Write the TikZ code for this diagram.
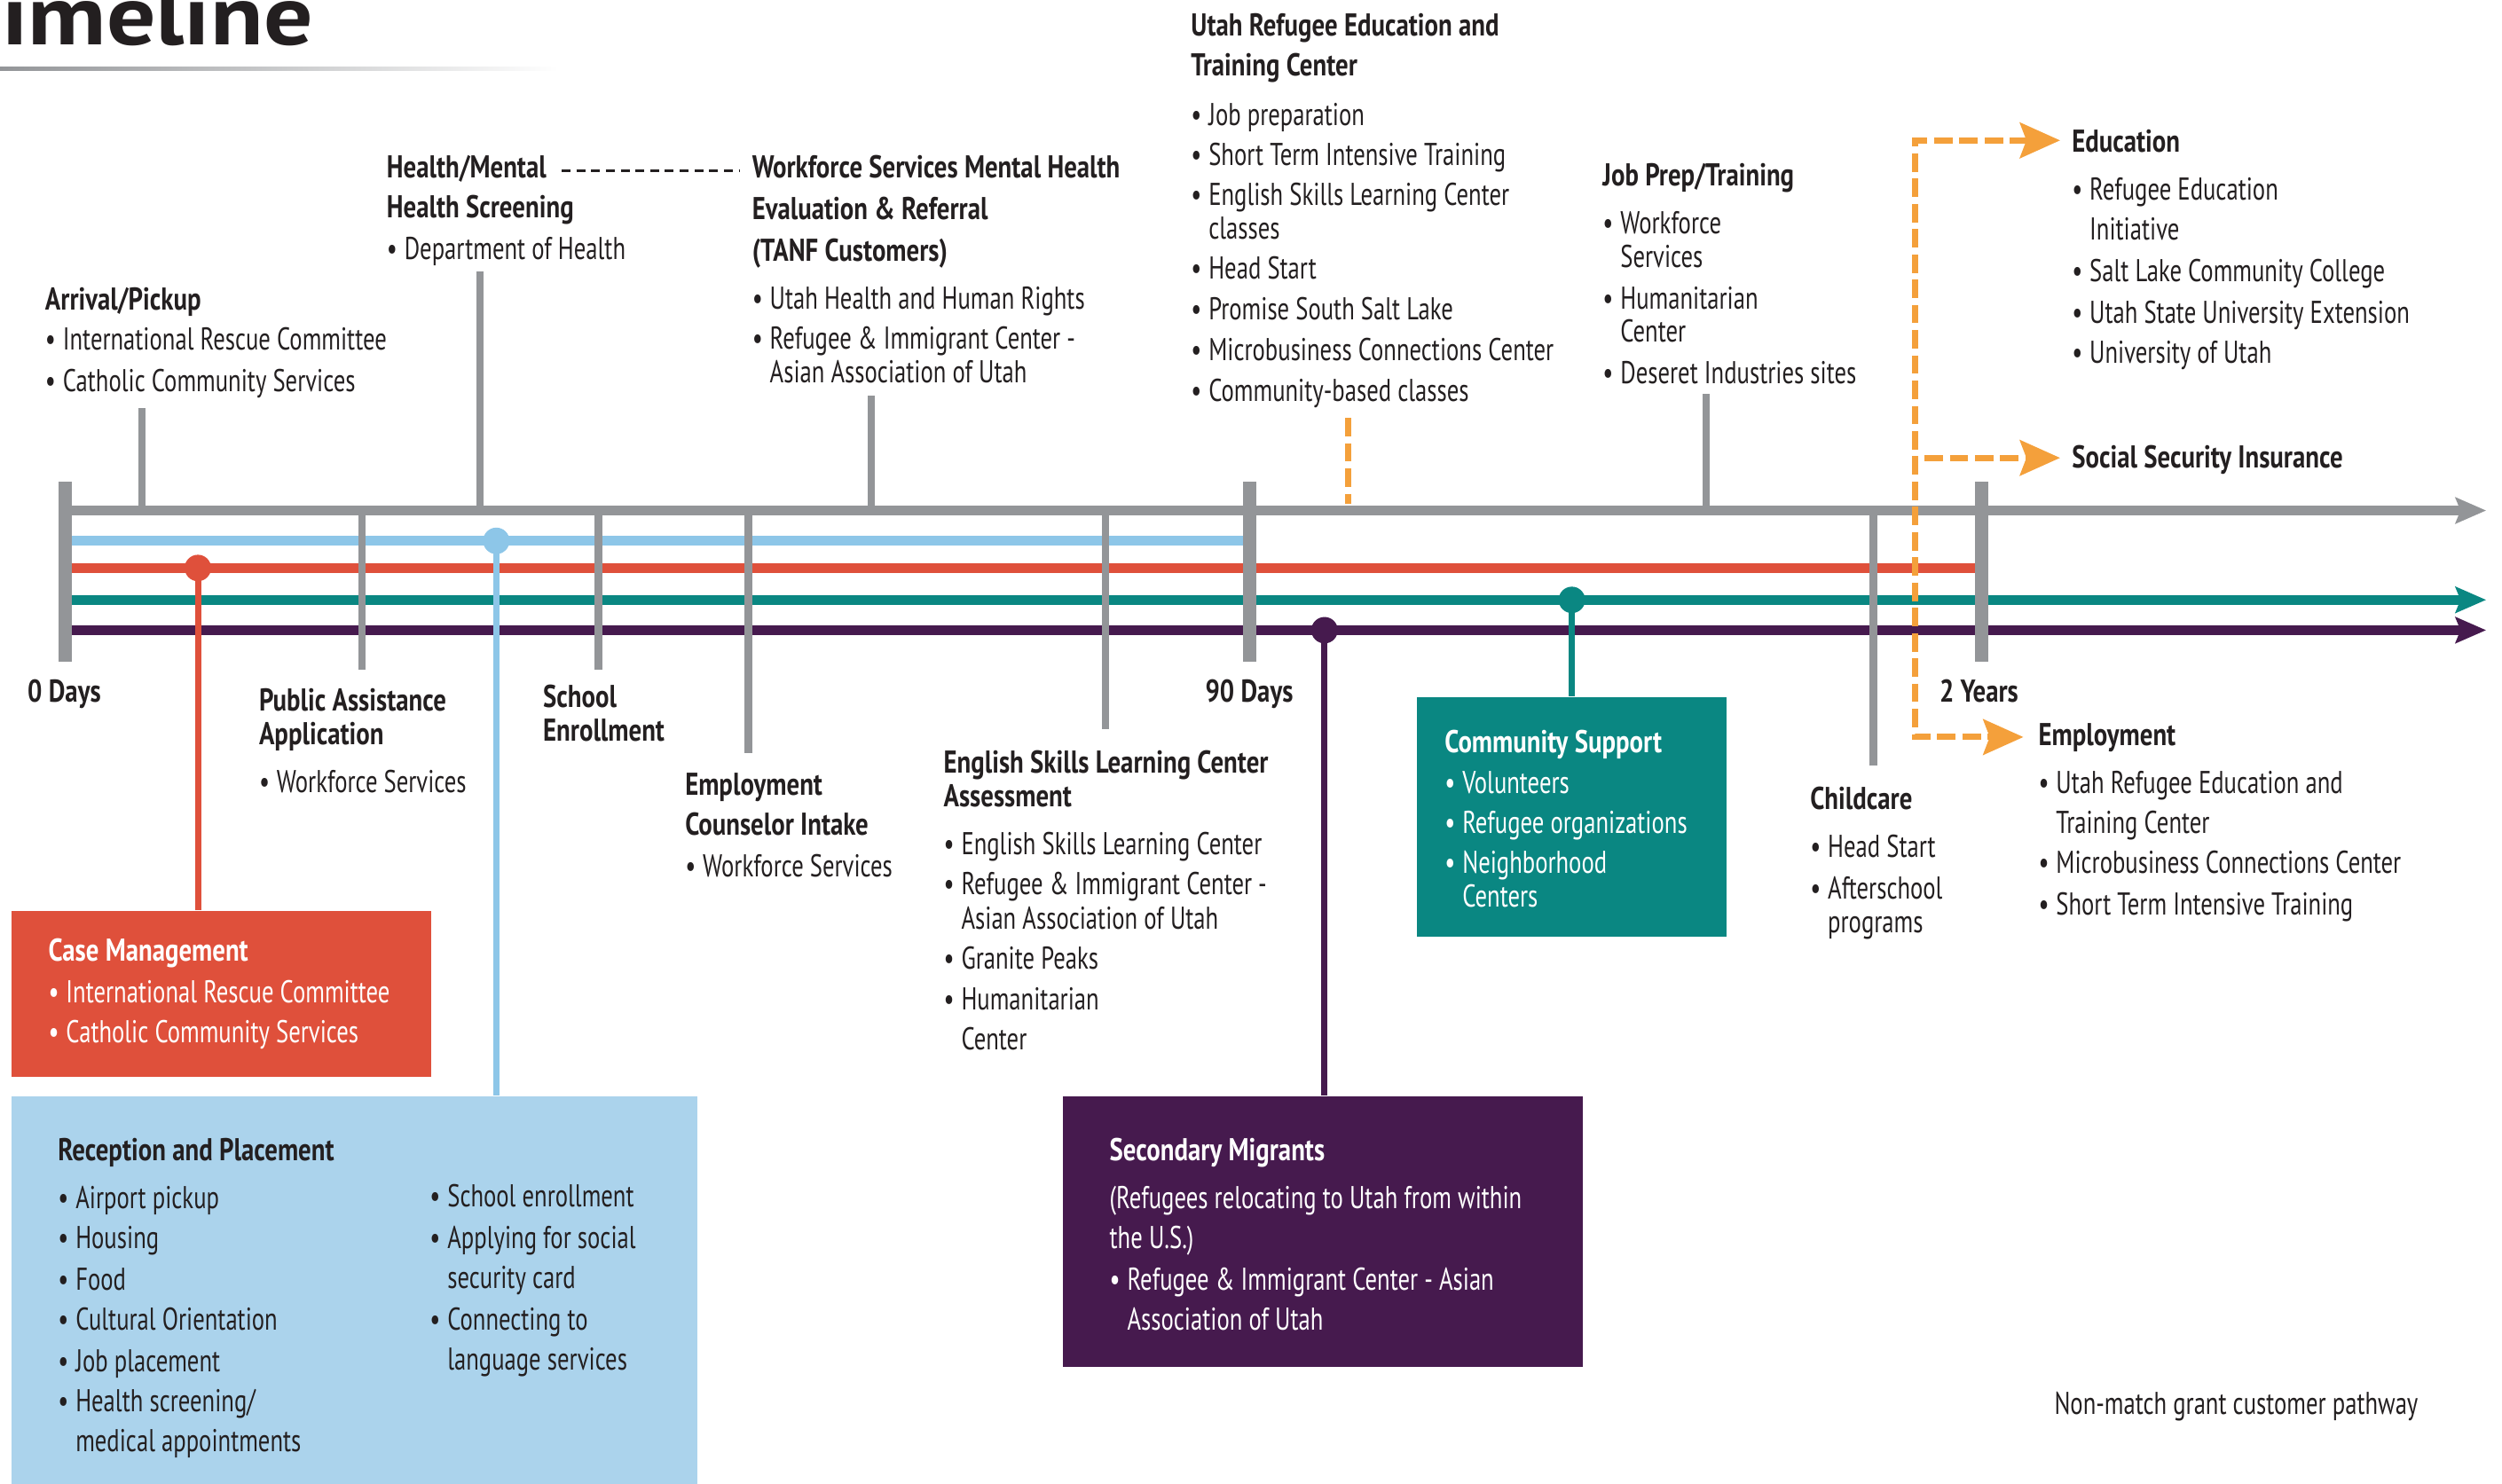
\documentclass[tikz,border=0pt]{standalone}
\usepackage{fontspec}
\setmainfont{PT Sans}[UprightFeatures={FakeStretch=0.75}, BoldFeatures={FakeStretch=0.81}]
\newfontfamily\titlefont{PT Sans}[FakeStretch=1.15]
\usetikzlibrary{arrows.meta,fit}
\definecolor{ink}{HTML}{231F20}
\definecolor{axisgrey}{HTML}{939598}
\definecolor{lblue}{HTML}{8DC6E8}
\definecolor{boxblue}{HTML}{ABD3EC}
\definecolor{rred}{HTML}{DF503B}
\definecolor{tealc}{HTML}{0A8782}
\definecolor{purp}{HTML}{461A4E}
\definecolor{orng}{HTML}{F4A03B}
\newlength\uu \setlength\uu{0.02cm}
\newcommand\bl{\textbullet\hspace{0.22em}}
\newcommand\ind{\hphantom{\textbullet\hspace{0.22em}}}
\tikzset{
  txt/.style={anchor=north west, yshift=7.9pt, inner sep=0pt, align=left, text=ink,
    font=\fontsize{11.2}{11.9}\selectfont, execute at begin node={\rule{0pt}{9pt}}},
  wtxt/.style={txt, text=white},
  axisline/.style={draw=axisgrey, line width=0.13cm},
  pathline/.style={line width=0.12cm},
  gtip/.tip={Stealth[length=0.38cm, width=0.32cm, inset=0.06cm]},
  tipbig/.style={-{gtip}},
  minortick/.style={draw=axisgrey, line width=0.09cm},
  majortick/.style={draw=axisgrey, line width=0.165cm},
  conn/.style={line width=0.078cm},
  dot/.style={circle, inner sep=0pt, minimum size=0.33cm},
  panel/.style={inner sep=0pt, draw=none},
  odash/.style={draw=orng, line width=0.078cm, dash pattern=on 0.23cm off 0.085cm},
  otip/.tip={Stealth[length=0.5cm, width=0.44cm, inset=0.08cm]},
}
\begin{document}
\begin{tikzpicture}[x=0.02cm, y=-0.02cm]
\useasboundingbox (0,0) rectangle (1560,925);
\clip (0,0) rectangle (1560,925);
\begin{scope}[scale=0.995]

% title
\node[anchor=base west, inner sep=0pt, text=ink, font=\titlefont\bfseries\fontsize{30}{30}\selectfont] (title) at (1,28) {imeline};
\shade[left color=axisgrey, right color=white] (0,42) rectangle (350,44);

% panels
\node[panel, fill=rred, fit={(7,571)(270,675)}] (casebox) {};
\node[panel, fill=boxblue, fit={(7,687)(437,935)}] (recbox) {};
\node[panel, fill=purp, fit={(666,687)(992,857)}] (secbox) {};
\node[panel, fill=tealc, fit={(888,437)(1082,587)}] (combox) {};

% axis coordinates
\coordinate (O) at (41,320);
\coordinate (E) at (1558,320);
\coordinate (Bs) at (41,339); \coordinate (Be) at (783,339);
\coordinate (Rs) at (41,356); \coordinate (Re) at (1242,356);
\coordinate (Ts) at (41,376); \coordinate (Te) at (1558,376);
\coordinate (Ps) at (41,395); \coordinate (Pe) at (1558,395);

% colored pathways
\draw[pathline, draw=lblue] (Bs) -- (Be);
\draw[pathline, draw=rred] (Rs) -- (Re);
\draw[pathline, draw=tealc, tipbig] (Ts) -- (Te);
\draw[pathline, draw=purp, tipbig] (Ps) -- (Pe);
\draw[axisline, tipbig] (O) -- (E);

% ticks
\coordinate (tArr) at (89,256);
\coordinate (tHea) at (301,170);
\coordinate (tWmh) at (546,248);
\coordinate (tJob) at (1069,247);
\coordinate (tPub) at (227,420);
\coordinate (tSch) at (375,420);
\coordinate (tEmp) at (469,472);
\coordinate (tEsl) at (693,457);
\coordinate (tChi) at (1174,480);
\foreach \t in {tArr,tHea,tWmh,tJob,tPub,tSch,tEmp,tEsl,tChi}
  \draw[minortick] (\t) -- (\t |- O);
\coordinate (m0a) at (41,302);   \coordinate (m0b) at (41,415);
\coordinate (m90a) at (783,302); \coordinate (m90b) at (783,415);
\coordinate (m2a) at (1242,302); \coordinate (m2b) at (1242,415);
\draw[majortick] (m0a) -- (m0b);
\draw[majortick] (m90a) -- (m90b);
\draw[majortick] (m2a) -- (m2b);

% dots and connectors
\node[dot, fill=rred] (rdot) at (124,356) {};
\node[dot, fill=lblue] (bdot) at (311,339) {};
\node[dot, fill=purp] (pdot) at (830,395) {};
\node[dot, fill=tealc] (tdot) at (985,376) {};
\draw[conn, draw=rred] (rdot.center) -- (rdot |- casebox.north);
\draw[conn, draw=lblue] (bdot.center) -- (bdot |- recbox.north);
\draw[conn, draw=purp] (pdot.center) -- (pdot |- secbox.north);
\draw[conn, draw=tealc] (tdot.center) -- (tdot |- combox.north);

% orange pathway
\coordinate (oTop) at (1200,88);
\coordinate (oBot) at (1200,462);
\coordinate (eduTip) at (1291,88);
\coordinate (empTip) at (1268,462);
\coordinate (ssiA) at (1206,287);
\coordinate (ssiTip) at (1291,287);
\coordinate (uA) at (845,262);
\coordinate (uB) at (845,316);
\draw[odash, {otip}-{otip}] (eduTip) -- (oTop) -- (oBot) -- (empTip);
\draw[odash, -{otip}] (ssiA) -- (ssiTip);
\draw[odash] (uA) -- (uB);

% black dashed link
\coordinate (hmA) at (352,107);
\coordinate (hmB) at (463,107);
\draw[draw=ink, line width=0.037cm, dash pattern=on 0.11cm off 0.074cm] (hmA) -- (hmB);

% texts above
\node[txt] (arr) at (28,194) {\textbf{Arrival/Pickup}\\[4\uu]\bl International Rescue Committee\\[5\uu]\bl Catholic Community Services};
\node[txt] (hea) at (242,111) {\textbf{Health/Mental}\\[4\uu]\textbf{Health Screening}\\[5\uu]\bl Department of Health};
\node[txt] (wmh) at (471,111) {\textbf{Workforce Services Mental Health}\\[5\uu]\textbf{Evaluation \& Referral}\\[5\uu]\textbf{(TANF Customers)}\\[9\uu]\bl Utah Health and Human Rights\\[4\uu]\bl Refugee \& Immigrant Center -\\\ind Asian Association of Utah};
\node[txt] (urec) at (746,22) {\textbf{Utah Refugee Education and}\\[4\uu]\textbf{Training Center}\\[10\uu]\bl Job preparation\\[4\uu]\bl Short Term Intensive Training\\[4\uu]\bl English Skills Learning Center\\\ind classes\\[4\uu]\bl Head Start\\[5\uu]\bl Promise South Salt Lake\\[4\uu]\bl Microbusiness Connections Center\\[5\uu]\bl Community-based classes};
\node[txt] (jobp) at (1004,116) {\textbf{Job Prep/Training}\\[9\uu]\bl Workforce\\\ind Services\\[5\uu]\bl Humanitarian\\\ind Center\\[5\uu]\bl Deseret Industries sites};
\node[txt] (edu) at (1298,95) {\textbf{Education}\\[9\uu]\bl Refugee Education\\[4\uu]\ind Initiative\\[5\uu]\bl Salt Lake Community College\\[5\uu]\bl Utah State University Extension\\[4\uu]\bl University of Utah};
\node[txt] (ssi) at (1298,291) {\textbf{Social Security Insurance}};

% time labels
\node[txt] (d0) at (17,438) {\textbf{0 Days}};
\node[txt] (d90) at (755,438) {\textbf{90 Days}};
\node[txt] (y2) at (1215,438) {\textbf{2 Years}};

% texts below
\node[txt] (pub) at (162,445) {\textbf{Public Assistance}\\\textbf{Application}\\[9\uu]\bl Workforce Services};
\node[txt] (sch) at (340,443) {\textbf{School}\\\textbf{Enrollment}};
\node[txt] (emc) at (429,498) {\textbf{Employment}\\[4\uu]\textbf{Counselor Intake}\\[5\uu]\bl Workforce Services};
\node[txt] (esl) at (591,484) {\textbf{English Skills Learning Center}\\\textbf{Assessment}\\[9\uu]\bl English Skills Learning Center\\[4\uu]\bl Refugee \& Immigrant Center -\\[1\uu]\ind Asian Association of Utah\\[4\uu]\bl Granite Peaks\\[4\uu]\bl Humanitarian\\[4\uu]\ind Center};
\node[txt] (chi) at (1134,507) {\textbf{Childcare}\\[9\uu]\bl Head Start\\[5\uu]\bl Afterschool\\\ind programs};
\node[txt] (emp) at (1277,467) {\textbf{Employment}\\[9\uu]\bl Utah Refugee Education and\\[4\uu]\ind Training Center\\[4\uu]\bl Microbusiness Connections Center\\[5\uu]\bl Short Term Intensive Training};

% panel texts
\node[wtxt] (caset) at (30,602) {\textbf{Case Management}\\[5\uu]\bl International Rescue Committee\\[4\uu]\bl Catholic Community Services};
\node[wtxt] (comt) at (905,471) {\textbf{Community Support}\\[5\uu]\bl Volunteers\\[4\uu]\bl Refugee organizations\\[4\uu]\bl Neighborhood\\\ind Centers};
\node[txt] (rect) at (36,727) {\textbf{Reception and Placement}\\[9\uu]\bl Airport pickup\\[4\uu]\bl Housing\\[5\uu]\bl Food\\[4\uu]\bl Cultural Orientation\\[5\uu]\bl Job placement\\[4\uu]\bl Health screening/\\[4\uu]\ind medical appointments};
\node[txt] (rect2) at (269,756) {\bl School enrollment\\[5\uu]\bl Applying for social\\[4\uu]\ind security card\\[5\uu]\bl Connecting to\\[4\uu]\ind language services};
\node[wtxt] (sect) at (695,727) {\textbf{Secondary Migrants}\\[9\uu](Refugees relocating to Utah from within\\[4\uu]the U.S.)\\[5\uu]\bl Refugee \& Immigrant Center - Asian\\[4\uu]\ind Association of Utah};

\node[txt] (nonm) at (1287,884) {Non-match grant customer pathway};
\end{scope}
\end{tikzpicture}
\end{document}
